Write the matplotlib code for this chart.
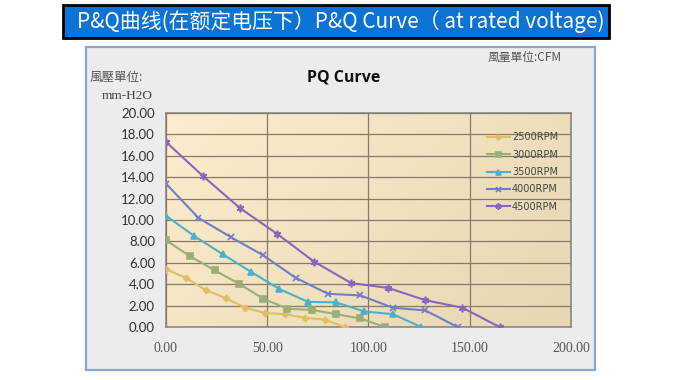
import numpy as np
import matplotlib.pyplot as plt
from matplotlib.patches import Rectangle

# PQ data (flow CFM, pressure mm-H2O)
q_2500 = [0, 9.8, 19.6, 29.4, 39.2, 49.0, 58.8, 68.6, 78.4, 88.2]
p_2500 = [5.4, 4.6, 3.45, 2.7, 1.8, 1.3, 1.2, 0.85, 0.7, 0.0]

q_3000 = [0, 12, 24, 36, 48, 60, 72, 84, 96, 108]
p_3000 = [8.1, 6.6, 5.3, 4.05, 2.65, 1.7, 1.6, 1.2, 0.8, 0.0]

q_3500 = [0, 14, 28, 42, 56, 70, 84, 98, 112, 126]
p_3500 = [10.4, 8.5, 6.8, 5.15, 3.55, 2.35, 2.3, 1.45, 1.2, 0.0]

q_4000 = [0, 16, 32, 48, 64, 80, 96, 112, 128, 144]
p_4000 = [13.4, 10.2, 8.4, 6.7, 4.6, 3.1, 2.95, 1.8, 1.55, 0.0]

q_4500 = [0, 18.3, 36.6, 54.9, 73.2, 91.5, 109.8, 128.1, 146.4, 164.7]
p_4500 = [17.3, 14.1, 11.1, 8.7, 6.1, 4.1, 3.65, 2.5, 1.8, 0.0]

series = [
    ("2500RPM", q_2500, p_2500, "#E2BE62", "D", 3),
    ("3000RPM", q_3000, p_3000, "#9BAE78", "s", 4.5),
    ("3500RPM", q_3500, p_3500, "#4DB0CB", "^", 4.5),
    ("4000RPM", q_4000, p_4000, "#6F7ECB", "x", 4.5),
    ("4500RPM", q_4500, p_4500, "#8866C0", (6, 2, 0), 5.5),
]

x_ticks = [0, 50, 100, 150, 200]
y_ticks = [0, 2, 4, 6, 8, 10, 12, 14, 16, 18, 20]

fig = plt.figure(figsize=(6.8, 3.8), dpi=100)
fig.patch.set_facecolor("white")

# title banner
fig.patches.append(Rectangle((0.0926, 0.900), 0.803, 0.087, transform=fig.transFigure,
                             facecolor="#0B72D6", edgecolor="black", linewidth=2, zorder=-2))
fig.text(0.501, 0.944, "P&Q曲线(在额定电压下）P&Q Curve（ at rated voltage)",
         color="white", fontsize=15, ha="center", va="center",
         family=["Noto Sans CJK SC", "DejaVu Sans"])

# chart panel
fig.patches.append(Rectangle((0.1265, 0.026), 0.7485, 0.85, transform=fig.transFigure,
                             facecolor="#ECECEC", edgecolor="#8FA3CF", linewidth=1.6, zorder=-2))

ax = fig.add_axes([0.2441, 0.1395, 0.5956, 0.5631])

# warm gradient background of the plot area
gx, gy = np.meshgrid(np.linspace(0, 1, 200), np.linspace(0, 1, 200))
g = 0.65 * gx + 0.35 * gy
c0 = np.array([253, 236, 205]) / 255
c1 = np.array([228, 215, 178]) / 255
img = c0 + (c1 - c0) * g[..., None]
ax.imshow(img, extent=[0, 1, 0, 1], transform=ax.transAxes, aspect="auto", zorder=0, origin="upper")

for name, q, p, col, mk, ms in series:
    ax.plot(q, p, color=col, marker=mk, markersize=ms, linewidth=1.5, label=name, zorder=3,
            markeredgewidth=1.2)

ax.set_xlim(0, 200)
ax.set_ylim(0, 20)
ax.set_xticks(x_ticks)
ax.set_yticks(y_ticks)
ax.set_xticklabels([f"{v:.2f}" for v in x_ticks], family="Liberation Serif", fontsize=10, color="#555555")
ax.set_yticklabels([f"{v:.2f}" for v in y_ticks], family="Lato", fontsize=9.5, color="#333333")
ax.tick_params(length=0)
ax.tick_params(axis="y", pad=8)
ax.tick_params(axis="x", pad=11)
ax.grid(True, color="#857B68", linewidth=0.9, zorder=1)
ax.set_axisbelow(False)
for s in ax.spines.values():
    s.set_color("#8A8A8A")
    s.set_linewidth(1.2)

leg = ax.legend(loc="upper left", bbox_to_anchor=(0.77, 0.95), frameon=False,
                fontsize=7, handlelength=2.4, labelspacing=0.75, handletextpad=0.2, markerscale=0.8)
for t in leg.get_texts():
    t.set_color("#444444")

fig.text(0.505, 0.797, "PQ Curve", fontsize=11.5, fontweight="bold", ha="center", va="center",
         family="Open Sans", color="#111111")
fig.text(0.132, 0.797, "風壓單位:", fontsize=9, ha="left", va="center",
         family=["Noto Sans CJK TC", "DejaVu Sans"], color="#555555")
fig.text(0.187, 0.747, "mm-H2O", fontsize=9.5, ha="center", va="center",
         family="Liberation Serif", color="#444444")
fig.text(0.772, 0.848, "風量單位:CFM", fontsize=8.5, ha="center", va="center",
         family=["Noto Sans CJK TC", "DejaVu Sans"], color="#555555")

fig.savefig("out.png", dpi=100)
